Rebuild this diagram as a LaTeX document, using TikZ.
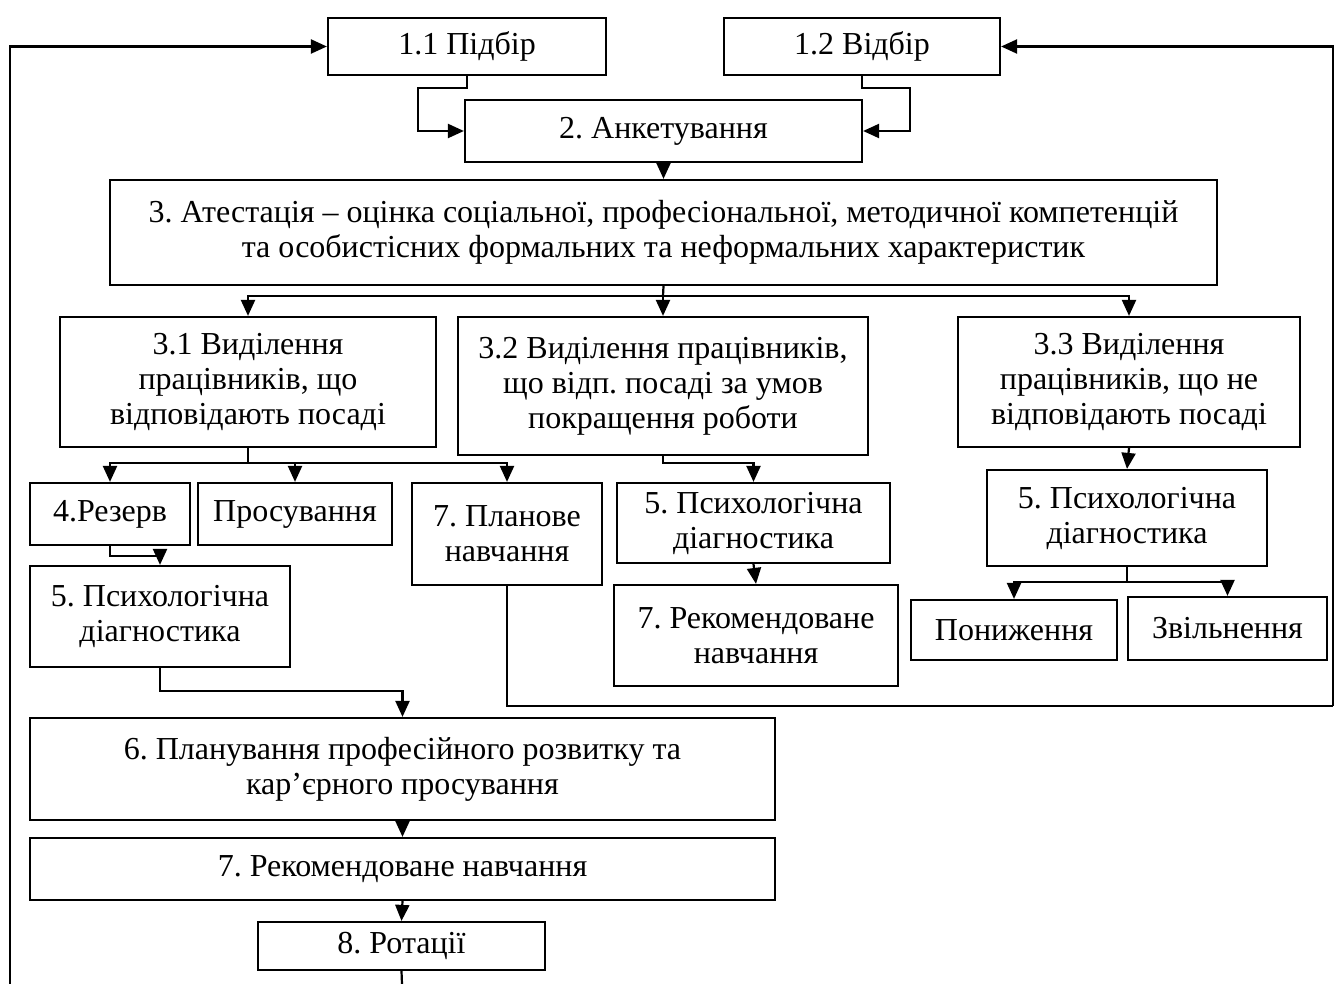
\documentclass[tikz,border=0pt]{standalone}
\usepackage{fontspec}
\setmainfont{Liberation Serif}
\frenchspacing
\usetikzlibrary{arrows.meta}
\begin{document}
\begin{tikzpicture}[x=0.5pt,y=-0.5pt,
  box/.style={draw,line width=1.1pt,inner sep=0pt,align=center,
    font=\fontsize{16}{17.5}\selectfont},
  conn/.style={line width=1.1pt},
  arr/.style={line width=1.1pt,-{Triangle[length=8pt,width=7pt]}}]
\useasboundingbox (0,0) rectangle (1338,984);
% nodes
\node[box,minimum width=139pt,minimum height=28.5pt] (n11) at (467,46.5) {1.1 Підбір};
\node[box,minimum width=138pt,minimum height=28.5pt] (n12) at (862,46.5) {1.2 Відбір};
\node[box,minimum width=198.5pt,minimum height=31pt] (n2) at (663.5,131) {2. Анкетування};
\node[box,minimum width=553.5pt,minimum height=52.5pt] (n3) at (663.5,232.5) {3. Атестація – оцінка соціальної, професіональної, методичної компетенцій\\та особистісних формальних та неформальних характеристик};
\node[box,minimum width=188pt,minimum height=65pt] (n31) at (248,382) {3.1 Виділення\\працівників, що\\відповідають посаді};
\node[box,minimum width=205pt,minimum height=69pt] (n32) at (663,386) {3.2 Виділення працівників,\\що відп. посаді за умов\\покращення роботи};
\node[box,minimum width=171pt,minimum height=65pt] (n33) at (1129,382) {3.3 Виділення\\працівників, що не\\відповідають посаді};
\node[box,minimum width=80pt,minimum height=31pt] (n4) at (110,514) {4.Резерв};
\node[box,minimum width=97pt,minimum height=31pt] (nprom) at (295,514) {Просування};
\node[box,minimum width=95pt,minimum height=51pt] (n7plan) at (507,534) {7. Планове\\навчання};
\node[box,minimum width=130pt,minimum height=50.5pt] (n5a) at (160,616.5) {5. Психологічна\\діагностика};
\node[box,minimum width=372.5pt,minimum height=51pt] (n6) at (402.5,769) {6. Планування професійного розвитку та\\кар’єрного просування};
\node[box,minimum width=372.5pt,minimum height=31pt] (n7rec) at (402.5,869) {7. Рекомендоване навчання};
\node[box,minimum width=143.5pt,minimum height=24pt] (n8) at (401.5,946) {8. Ротації};
\node[box,minimum width=136.5pt,minimum height=40pt] (n5b) at (753.5,523) {5. Психологічна\\діагностика};
\node[box,minimum width=142pt,minimum height=50.5pt] (n7b) at (756,635.5) {7. Рекомендоване\\навчання};
\node[box,minimum width=140pt,minimum height=48pt] (n5c) at (1127,518) {5. Психологічна\\діагностика};
\node[box,minimum width=103pt,minimum height=30pt] (npon) at (1014,630) {Пониження};
\node[box,minimum width=99.5pt,minimum height=31.5pt] (nzv) at (1227.5,628.5) {Звільнення};
% coordinates
\coordinate (a11) at (418,88);
\coordinate (a12) at (910,88);
\coordinate (j3) at (663,296);
\coordinate (j31) at (248,463);
\coordinate (j5c) at (1127,582);
\coordinate (bot8) at (402,984);
\coordinate (botL) at (10,984);
\coordinate (loopA) at (507,706);
\coordinate (loopB) at (1333,706);
% connectors
\draw[arr] (n11.south) |- (a11) |- (n2.west);
\draw[arr] (n12.south) |- (a12) |- (n2.east);
\draw[arr] (n2.south) -- (n3.north);
\draw[conn] (n3.south) -- (j3);
\draw[arr] (j3) -| (n31.north);
\draw[arr] (j3) -- (n32.north);
\draw[arr] (j3) -| (n33.north);
\draw[conn] (n31.south) -- (j31);
\draw[arr] (j31) -| (n4.north);
\draw[arr] (j31) -| (nprom.north);
\draw[arr] (j31) -| (n7plan.north);
\draw[arr] (n4.south) -- ++(0,10) -| (n5a.north);
\draw[arr] (n5a.south) -- ++(0,23) -| (n6.north);
\draw[arr] (n6.south) -- (n7rec.north);
\draw[arr] (n7rec.south) -- (n8.north);
\draw[conn] (n8.south) -- (bot8);
\draw[arr] (botL) |- (n11.west);
\draw[arr] (n32.south) -- ++(0,7) -| (n5b.north);
\draw[arr] (n5b.south) -- (n7b.north);
\draw[arr] (n33.south) -- (n5c.north);
\draw[conn] (n5c.south) -- (j5c);
\draw[arr] (j5c) -| (npon.north);
\draw[arr] (j5c) -| (nzv.north);
\draw[conn] (n7plan.south) -- (loopA) -- (loopB);
\draw[arr] (loopB) |- (n12.east);
\end{tikzpicture}
\end{document}
